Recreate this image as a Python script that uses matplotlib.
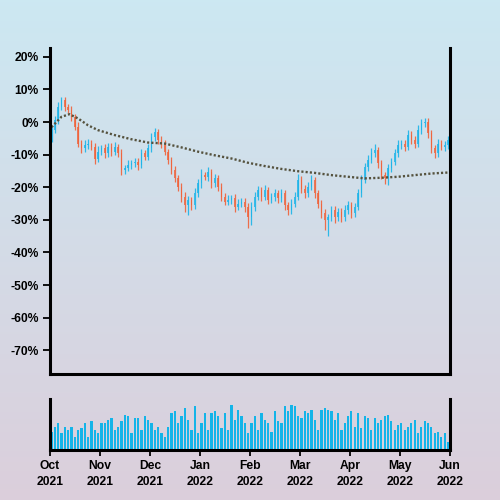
import numpy as np
import matplotlib
matplotlib.use("Agg")
import matplotlib.pyplot as plt
from matplotlib.ticker import FuncFormatter

plt.rcParams['font.family'] = ['Liberation Sans', 'DejaVu Sans']

# month labels (evenly spaced ticks, Oct 2021 .. Jun 2022)
months = ["Oct\n2021", "Nov\n2021", "Dec\n2021", "Jan\n2022", "Feb\n2022",
          "Mar\n2022", "Apr\n2022", "May\n2022", "Jun\n2022"]

# cumulative return (%) per candle
first_open = -5.0
closes = [-2.5, 0.6, 4.7, 6.7, 4.7, 3.7, 1.6, -1.5, -6.6, -8.1,
          -7.1, -6.6, -7.6, -11.2, -9.1, -8.1, -9.6, -7.6, -9.1, -7.6,
          -9.6, -14.7, -14.0, -13.2, -12.6, -12.2, -13.2, -9.6, -10.6, -8.1,
          -4.5, -3.0, -5.5, -6.6, -9.1, -11.7, -14.7, -17.3, -19.8, -22.9,
          -25.5, -23.9, -25.5, -21.9, -18.8, -16.3, -16.8, -15.3, -18.8, -17.3,
          -19.8, -22.9, -24.4, -23.9, -23.4, -26.0, -25.0, -24.4, -26.0, -29.1,
          -26.0, -22.9, -20.9, -22.9, -20.9, -23.9, -23.0, -21.9, -23.4, -21.9,
          -25.5, -27.0, -25.0, -22.9, -17.8, -20.4, -21.9, -19.8, -17.8, -21.9,
          -25.0, -28.0, -30.1, -29.1, -27.0, -29.1, -27.5, -29.1, -27.0, -25.5,
          -28.0, -26.0, -21.9, -17.8, -13.7, -11.7, -9.6, -8.6, -12.7, -16.3,
          -17.3, -14.2, -12.2, -9.6, -7.1, -6.6, -7.6, -4.0, -5.5, -6.6,
          -2.5, -0.4, 0.1, -3.5, -8.1, -9.6, -6.6, -7.6, -7.1, -5.5]

wick_hi = [1.0, 1.2, 1.5, 0.9, 1.0, 0.8, 1.2, 1.0, 1.4, 1.1,
           1.6, 1.3, 1.0, 1.2, 1.8, 1.0, 1.5, 1.3, 1.1, 1.6,
           1.0, 1.2, 0.8, 1.4, 1.0, 1.3, 1.1, 1.2, 1.0, 1.5,
           1.2, 1.3, 1.0, 1.1, 1.2, 0.9, 1.0, 1.2, 1.1, 1.0,
           1.3, 1.2, 1.0, 1.6, 1.4, 1.8, 1.1, 1.5, 1.0, 1.3,
           1.0, 1.2, 1.1, 1.4, 1.0, 1.2, 1.3, 1.1, 1.0, 1.2,
           1.4, 1.5, 1.2, 1.0, 1.6, 1.1, 1.3, 1.2, 1.0, 1.4,
           1.1, 1.0, 1.3, 1.5, 1.8, 1.2, 1.0, 1.3, 1.6, 1.0,
           1.1, 1.0, 1.2, 1.0, 1.3, 1.1, 1.2, 1.0, 1.4, 1.2,
           1.0, 1.3, 1.5, 1.4, 1.2, 1.6, 1.5, 1.8, 1.0, 1.1,
           1.0, 1.3, 1.2, 1.4, 1.5, 1.2, 1.0, 1.6, 1.1, 1.2,
           1.5, 1.3, 1.0, 1.2, 1.0, 1.1, 1.3, 1.2, 1.4, 1.2]

wick_lo = [1.2, 1.0, 1.1, 1.0, 1.2, 1.0, 1.3, 1.1, 1.2, 1.4,
           1.0, 1.3, 1.1, 1.6, 1.2, 1.0, 1.4, 1.1, 1.3, 1.0,
           1.2, 1.5, 1.3, 1.0, 1.2, 1.1, 1.4, 1.0, 1.2, 1.1,
           1.0, 1.2, 1.1, 1.3, 1.0, 1.2, 1.4, 1.1, 1.3, 1.5,
           2.0, 3.1, 1.4, 1.2, 1.0, 1.3, 1.1, 1.2, 1.5, 1.0,
           1.3, 1.4, 1.2, 1.0, 1.3, 1.5, 1.1, 1.2, 1.6, 3.4,
           2.5, 1.2, 1.0, 1.4, 1.1, 1.3, 1.0, 1.2, 1.5, 1.1,
           1.4, 1.6, 1.2, 1.0, 1.1, 1.3, 1.4, 1.0, 1.2, 1.5,
           1.3, 1.6, 3.0, 5.0, 1.4, 1.8, 1.2, 1.6, 1.3, 1.1,
           1.5, 1.2, 1.0, 1.1, 1.0, 1.2, 1.0, 1.1, 1.4, 1.3,
           1.6, 2.0, 1.2, 1.0, 1.1, 1.3, 1.2, 1.0, 1.2, 1.3,
           1.0, 1.1, 1.0, 1.3, 1.5, 1.4, 1.2, 1.1, 1.3, 1.2]

# long moving average (dotted line), month position and value
ma_month = [0.03, 0.23, 0.39, 0.56, 0.76, 0.96, 1.29, 1.63, 1.96, 2.29,
            2.63, 2.96, 3.29, 3.63, 3.96, 4.29, 4.63, 4.96, 5.29, 5.63,
            5.96, 6.29, 6.63, 6.96, 7.29, 7.63, 7.96]
ma_value = [-1.6, 1.6, 2.4, 1.1, -1.0, -2.5, -4.0, -5.3, -6.3, -6.6,
            -7.8, -9.1, -10.2, -11.2, -12.5, -13.5, -14.4, -15.1, -15.6, -16.3,
            -16.8, -17.3, -17.1, -16.8, -16.3, -15.8, -15.5]

# volume (0-100 of panel height)
volume = [36, 46, 53, 33, 46, 39,
          46, 26, 39, 43, 53, 26, 56, 39, 33, 53,
          53, 59, 63, 39, 46, 56, 69, 66, 33, 63,
          63, 39, 66, 59, 53, 39, 46, 33, 26, 46,
          72, 76, 53, 66, 82, 59, 39, 86, 33,
          53, 72, 39, 72, 76, 66, 43, 72, 39, 89, 59, 79, 66, 53, 33,
          53, 66, 39, 72, 59, 53, 36, 76, 56, 53,
          86, 76, 89, 86, 66, 63, 76, 72, 79, 59,
          39, 79, 82, 79, 76, 59, 72, 39, 53, 66,
          76, 46, 72, 43, 66, 63, 39, 63, 53, 59,
          66, 69, 56, 39, 49, 53, 39, 46, 53, 59,
          33, 46, 56, 53, 46, 33, 36, 26, 33, 16]

closes = np.array(closes)
opens = np.concatenate([[first_open], closes[:-1]])
highs = np.maximum(opens, closes) + np.array(wick_hi)
lows = np.minimum(opens, closes) - np.array(wick_lo)
n = len(closes)
x = np.linspace(0.03, 7.96, n)

UP = "#1cb4e8"
DOWN = "#f0623a"
cols = [UP if c >= o else DOWN for o, c in zip(opens, closes)]

fig = plt.figure(figsize=(5, 5), dpi=100)

# background gradient
bg = fig.add_axes([0, 0, 1, 1], zorder=-10)
top = np.array([0.80, 0.91, 0.95])
bot = np.array([0.86, 0.81, 0.86])
t = np.linspace(0, 1, 256)[:, None]
grad = (top * (1 - t) + bot * t)[:, None, :]
bg.imshow(grad, aspect='auto', extent=[0, 1, 0, 1])
bg.axis('off')

ax = fig.add_axes([0.1, 0.252, 0.8, 0.652])
ax.set_facecolor('none')
ax.vlines(x, lows, highs, colors=cols, linewidth=0.9, alpha=0.9)
ax.bar(x, closes - opens, bottom=opens, width=0.028, color=cols, alpha=0.8)
ax.plot(ma_month, ma_value, linestyle=(0, (0.9, 0.9)), color='#55523e', linewidth=1.7)

ax.set_xlim(0, 8)
ax.set_ylim(-77.3, 22.7)
ax.set_yticks(np.arange(-70, 21, 10))
ax.yaxis.set_major_formatter(FuncFormatter(lambda v, p: f"{v:.0f}%"))
ax.set_xticks([])
ax.spines['top'].set_visible(False)
for s in ['left', 'right', 'bottom']:
    ax.spines[s].set_linewidth(2.2)
ax.tick_params(axis='y', length=5, width=1.3, pad=3, labelsize=8.7)
for lab in ax.get_yticklabels():
    lab.set_fontweight('bold')

vax = fig.add_axes([0.1, 0.1, 0.8, 0.102])
vax.set_facecolor('none')
vax.bar(x, volume, width=0.045, color="#14b4e8")
vax.set_xlim(0, 8)
vax.set_ylim(0, 100)
vax.set_yticks([])
vax.spines['top'].set_visible(False)
for s in ['left', 'right', 'bottom']:
    vax.spines[s].set_linewidth(2.2)
vax.set_xticks(range(len(months)))
vax.set_xticklabels(months, fontweight='bold', fontsize=8.7, linespacing=1.45)
vax.tick_params(axis='x', length=4, width=1.3, pad=3)

fig.savefig("out.png", dpi=100)
